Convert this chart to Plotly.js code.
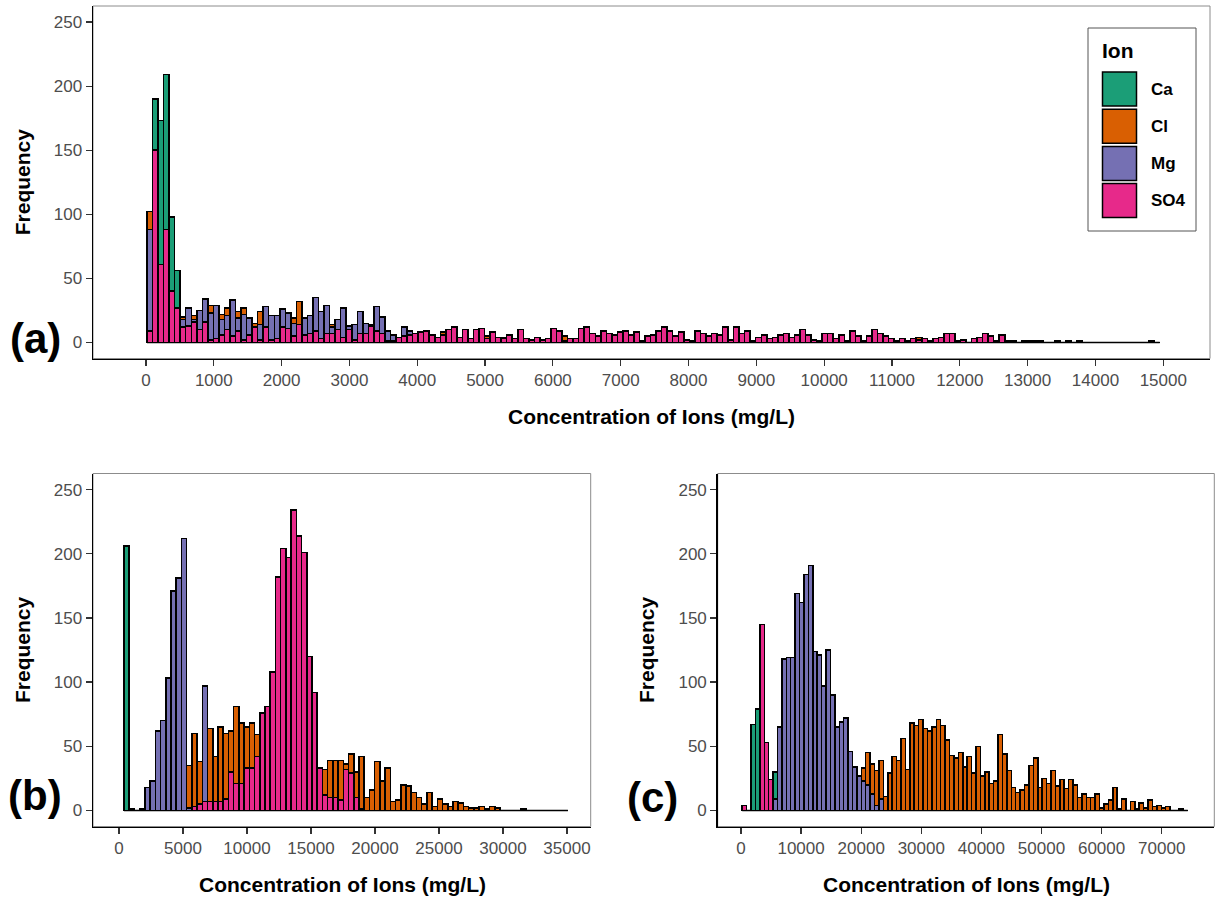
<!DOCTYPE html>
<html>
<head>
<meta charset="utf-8">
<script src="https://cdn.plot.ly/plotly-3.0.1.min.js"></script>
<style>
  html, body { margin: 0; padding: 0; background: #ffffff; }
  #chart { width: 1216px; height: 898px; }
</style>
</head>
<body>
<div id="chart"></div>
<script>
// Ion categories and their fill colours (Dark2 palette)
const ions = ['Ca', 'Cl', 'Mg', 'SO4'];
const ionColors = ['#1B9E77', '#D95F02', '#7570B3', '#E7298A'];

// Shared tick labels
const freqTicks = [0, 50, 100, 150, 200, 250];
const concTicksA = [0, 1000, 2000, 3000, 4000, 5000, 6000, 7000, 8000, 9000, 10000, 11000, 12000, 13000, 14000, 15000];
const concTicksB = [0, 5000, 10000, 15000, 20000, 25000, 30000, 35000];
const concTicksC = [0, 10000, 20000, 30000, 40000, 50000, 60000, 70000];

// ---------- Panel (a): histogram bins (mg/L) ----------
const binStartA = 15;
const binWidthA = 81.6;
const caA = [
  0,40,112,121,58,29,0,0,0,0,
  0,0,0,0,0,0,0,0,0,0, 0,0,0,0,0,0,0,0,0,0, 0,0,0,0,0,0,0,0,0,0,
  0,0,0,0,0,0,0,0,0,0, 0,0,0,0,0,0,0,0,0,0, 0,0,0,0,0,0,0,0,0,0,
  0,0,0,0,0,0,0,0,0,0, 0,0,0,0,0,0,0,0,0,0, 0,0,0,0,0,0,0,0,0,0,
  0,0,0,0,0,0,0,0,0,0, 0,0,0,0,0,0,0,0,0,0, 0,0,0,0,0,0,0,0,0,0,
  0,0,0,0,0,0,0,0,0,0, 0,0,0,0,0,0,0,0,0,0, 0,0,0,0,0,0,0,0,0,0,
  0,0,0,0,0,0,0,0,0,0, 0,0,0,0,0,0,0,0,0,0, 0,0,0
];
const clA = [
  14,0,0,0,0,0,2,0,3,0,
  0,6,0,4,6,0,5,5,0,3,
  10,0,0,0,0,0,4,18,0,0,
  0,0,0,2,0,0,0,0,0,0,
  0,0,0,0,0,0,0,0,0,0,
  0,0,0,2,0,0,0,0,0,0,
  0,2,0,0,1,0,0,0,0,0,
  0,0,0,0,0,4,0,0,0,0,
  0,0,0,0,0,0,0,0,0,0, 0,0,0,0,0,0,0,0,0,0,
  0,0,0,0,0,0,0,0,0,0, 0,0,0,0,0,0,0,0,0,0,
  0,0,0,0,0,0,0,0,0,0,
  0,0,0,0,0,0,0,0,0,2,
  0,0,0,0,0,0,0,0,0,0, 0,0,0,0,0,0,0,0,0,0,
  0,0,0,0,0,0,0,0,1,0,
  0,0,0,0,0,0,0,0,0,0, 0,0,0
];
const mgA = [
  79,0,0,0,0,0,6,14,2,15,
  18,21,26,12,11,28,10,20,13,0,
  12,16,19,18,14,12,10,0,13,14,
  26,21,22,5,8,23,3,12,17,8,
  1,19,13,8,5,0,7,3,0,0,
  0,0,0,0,0,0,0,0,0,0, 0,0,0,0,0,0,0,0,0,0, 0,0,0,0,0,0,0,0,0,0,
  0,0,0,0,0,0,0,0,0,0, 0,0,0,0,0,0,0,0,0,0, 0,0,0,0,0,0,0,0,0,0,
  0,0,0,0,0,0,0,0,0,0, 0,0,0,0,0,0,0,0,0,0, 0,0,0,0,0,0,0,0,0,0,
  0,0,0,0,0,0,0,0,0,0, 0,0,0,0,0,0,0,0,0,0, 0,0,0,0,0,0,0,0,0,0,
  0,0,0,0,0,0,0,0,0,0, 0,0,0
];
const so4A = [
  9,150,61,88,40,27,12,13,16,10,
  16,2,3,6,10,5,9,2,6,12,
  2,12,2,3,12,11,5,14,6,7,
  9,3,7,7,10,4,10,2,7,7,
  13,9,7,1,1,4,5,6,7,8,
  9,6,4,6,10,12,4,10,3,10,
  11,3,8,4,3,6,3,10,3,2,
  4,2,3,11,9,1,3,3,11,12,
  7,5,9,7,6,8,9,6,8,1,
  5,6,9,12,9,5,8,2,1,9,
  7,5,7,6,12,2,12,7,9,1,
  4,6,3,4,6,7,4,6,10,6,
  2,1,7,7,3,6,1,9,5,1,
  5,10,7,5,3,1,3,1,3,2,
  3,1,3,4,7,7,1,2,0,3,
  4,7,5,1,6,1,1,0,1,1,
  1,1,0,0,1,0,1,0,0,0,
  0,0,0,0,0,0,0,0,0,0,
  0,1,0
];

// ---------- Panel (b) ----------
const binStartB = 390;
const binWidthB = 408;
const caB = [
  206,1,0,0,0,0,0,0,0,0,
  0,0,0,0,0,0,0,0,0,0, 0,0,0,0,0,0,0,0,0,0, 0,0,0,0,0,0,0,0,0,0,
  0,0,0,0,0,0,0,0,0,0, 0,0,0,0,0,0,0,0,0,0, 0,0,0,0,0,0,0,0,0,0,
  0,0,0,0,0,0,0,0,0,0, 0,0,0,0,0
];
const clB = [
  0,0,0,0,0,0,0,0,0,0,
  0,0,33,57,33,0,57,35,58,51,
  32,60,47,32,35,17,0,0,0,0,
  0,0,0,0,0,0,0,0,20,29,
  29,31,4,15,20,41,10,16,38,23,
  33,7,8,20,19,14,10,5,14,3,
  9,5,3,7,6,3,2,2,3,1,
  3,2,0,0,0,0,1,0,0,0,
  0,0,0,0,0
];
const mgB = [
  0,0,0,1,18,23,62,70,103,171,
  181,212,2,0,0,90,0,0,0,0,
  0,0,0,0,0,0,0,0,0,0, 0,0,0,0,0,0,0,0,0,0,
  0,0,0,0,0,0,0,0,0,0, 0,0,0,0,0,0,0,0,0,0, 0,0,0,0,0,0,0,0,0,0,
  0,0,0,0,0,0,0,0,0,0, 0,0,0,0,0
];
const so4B = [
  0,0,0,0,0,0,0,0,0,0,
  0,0,0,3,5,7,7,7,7,9,
  30,21,21,33,33,42,76,81,108,182,
  204,197,234,214,201,120,92,33,12,10,
  10,8,32,29,10,1,0,0,0,0,
  0,0,0,0,0,0,0,0,0,0, 0,0,0,0,0,0,0,0,0,0, 0,0,0,0,0,0,0,0,0,0,
  0,0,0,0,0
];

// ---------- Panel (c) ----------
const binStartC = 200;
const binWidthC = 734;
const caC = [
  0,0,67,79,0,0,0,21,0,0,
  0,0,0,0,0,0,0,0,0,0, 0,0,0,0,0,0,0,0,0,0, 0,0,0,0,0,0,0,0,0,0,
  0,0,0,0,0,0,0,0,0,0, 0,0,0,0,0,0,0,0,0,0, 0,0,0,0,0,0,0,0,0,0,
  0,0,0,0,0,0,0,0,0,0, 0,0,0,0,0,0,0,0,0,0, 0,0,0,0,0,0,0,0,0,0,
  0
];
const clC = [
  0,0,0,0,0,0,0,0,0,0,
  0,0,0,0,0,0,0,0,0,0,
  0,0,0,0,0,0,0,10,25,23,
  27,30,11,29,42,39,56,32,68,66,
  71,64,62,65,71,66,55,43,41,45,
  34,42,29,50,27,30,21,23,59,44,
  31,18,14,16,20,35,41,18,25,21,
  31,19,24,17,24,20,10,13,10,10,
  13,2,5,8,18,1,9,0,7,1,
  6,2,8,3,4,2,3,0,0,1,
  0
];
const mgC = [
  0,0,0,0,0,0,0,9,65,118,
  119,119,169,162,184,191,124,121,97,125,
  90,65,69,72,46,34,27,23,20,13,
  4,9,0,0,0,0,0,0,0,0,
  0,0,0,0,0,0,0,0,0,0, 0,0,0,0,0,0,0,0,0,0, 0,0,0,0,0,0,0,0,0,0,
  0,0,0,0,0,0,0,0,0,0, 0,0,0,0,0,0,0,0,0,0, 0,0,0,0,0,0,0,0,0,0,
  0
];
const so4C = [
  4,0,0,0,145,53,24,0,0,0,
  0,0,0,0,0,0,0,0,0,0, 0,0,0,0,0,0,0,0,0,0, 0,0,0,0,0,0,0,0,0,0,
  0,0,0,0,0,0,0,0,0,0, 0,0,0,0,0,0,0,0,0,0, 0,0,0,0,0,0,0,0,0,0,
  0,0,0,0,0,0,0,0,0,0, 0,0,0,0,0,0,0,0,0,0, 0,0,0,0,0,0,0,0,0,0,
  0
];

// ---------- drawing ----------
const FONT = "'Liberation Sans', Arial, Helvetica, sans-serif";
const W = 1216, H = 898;
const px = v => v / W;          // horizontal pixel -> paper
const py = v => 1 - v / H;      // vertical pixel -> paper
const colorOf = name => ionColors[ions.indexOf(name)];
const OUTLINE = 1.5;

// stacked histogram: SO4 at the bottom, then Mg, Cl, Ca on top
function panelTraces(series, start, width, xa, ya) {
  const order = ['SO4', 'Mg', 'Cl', 'Ca'];
  return order.map(name => {
    const counts = series[name];
    return {
      type: 'bar',
      name: name,
      x: counts.map((_, i) => start + (i + 0.5) * width),
      y: counts,
      width: width,
      xaxis: xa, yaxis: ya,
      marker: { color: colorOf(name), line: { color: '#000000', width: OUTLINE } },
      showlegend: false,
      hoverinfo: 'skip'
    };
  });
}

const traces = [].concat(
  panelTraces({ Ca: caA, Cl: clA, Mg: mgA, SO4: so4A }, binStartA, binWidthA, 'x', 'y'),
  panelTraces({ Ca: caB, Cl: clB, Mg: mgB, SO4: so4B }, binStartB, binWidthB, 'x2', 'y2'),
  panelTraces({ Ca: caC, Cl: clC, Mg: mgC, SO4: so4C }, binStartC, binWidthC, 'x3', 'y3')
);

const tickFont = { family: FONT, size: 17, color: '#4d4d4d' };
function xAxis(domain, range, ticks, anchor) {
  return {
    domain: domain, range: range, anchor: anchor,
    tickmode: 'array', tickvals: ticks, ticktext: ticks.map(String),
    ticks: 'outside', ticklen: 6, tickwidth: 1.2, tickcolor: '#333333',
    showline: true, linecolor: '#000000', linewidth: 1.5,
    showgrid: false, zeroline: false, tickfont: tickFont, fixedrange: true
  };
}
function yAxis(domain, anchor) {
  return {
    domain: domain, range: [-12.5, 262.5], anchor: anchor,
    tickmode: 'array', tickvals: freqTicks, ticktext: freqTicks.map(String),
    ticks: 'outside', ticklen: 6, tickwidth: 1.2, tickcolor: '#333333',
    showline: true, linecolor: '#000000', linewidth: 1.5,
    showgrid: false, zeroline: false, tickfont: tickFont, fixedrange: true
  };
}

// panel frames (grey border) and zero-count baselines
const shapes = [];
[['x', 'y'], ['x2', 'y2'], ['x3', 'y3']].forEach(([xa, ya]) => {
  shapes.push({ type: 'rect', xref: xa + ' domain', yref: ya + ' domain', x0: 0, x1: 1, y0: 0, y1: 1,
    line: { color: '#8c8c8c', width: 1 }, layer: 'below' });
});
[[binStartA, binWidthA, so4A.length, 'x', 'y'],
 [binStartB, binWidthB, so4B.length, 'x2', 'y2'],
 [binStartC, binWidthC, so4C.length, 'x3', 'y3']].forEach(([s, w, n, xa, ya]) => {
  shapes.push({ type: 'line', xref: xa, yref: ya, x0: s, x1: s + n * w, y0: 0, y1: 0,
    line: { color: '#000000', width: OUTLINE }, layer: 'below' });
});

// legend box with large square keys
shapes.push({ type: 'rect', xref: 'paper', yref: 'paper', x0: px(1088), x1: px(1196), y0: py(231), y1: py(28),
  line: { color: '#555555', width: 1 }, fillcolor: '#ffffff' });
const annotations = [];
ions.forEach((name, k) => {
  const top = 72 + k * 37.2;
  shapes.push({ type: 'rect', xref: 'paper', yref: 'paper', x0: px(1102.5), x1: px(1136.5), y0: py(top + 34), y1: py(top),
    line: { color: '#000000', width: 1.5 }, fillcolor: ionColors[k] });
  annotations.push({ xref: 'paper', yref: 'paper', x: px(1149), y: py(top + 17), xanchor: 'left', yanchor: 'middle',
    text: '<b>' + name + '</b>', showarrow: false, font: { family: FONT, size: 17, color: '#000000' } });
});
annotations.push({ xref: 'paper', yref: 'paper', x: px(1100), y: py(50), xanchor: 'left', yanchor: 'middle',
  text: '<b>Ion</b>', showarrow: false, font: { family: FONT, size: 21, color: '#000000' } });

// axis titles
const titleFont = { family: FONT, size: 21, color: '#000000' };
const xTitle = 'Concentration of Ions (mg/L)';
[[px((93 + 1210) / 2), py(417)], [px((93 + 591) / 2), py(884)], [px((718 + 1214) / 2), py(884)]].forEach(([x, y]) => {
  annotations.push({ xref: 'paper', yref: 'paper', x: x, y: y, xanchor: 'center', yanchor: 'middle',
    text: '<b>' + xTitle + '</b>', showarrow: false, font: titleFont });
});
[[px(22), py((6 + 358.5) / 2)], [px(22), py((473.5 + 826.5) / 2)], [px(646), py((473.5 + 826.5) / 2)]].forEach(([x, y]) => {
  annotations.push({ xref: 'paper', yref: 'paper', x: x, y: y, xanchor: 'center', yanchor: 'middle', textangle: -90,
    text: '<b>Frequency</b>', showarrow: false, font: titleFont });
});

// panel tags
[['(a)', 35, 338], ['(b)', 35, 795], ['(c)', 652, 797]].forEach(([t, x, y]) => {
  annotations.push({ xref: 'paper', yref: 'paper', x: px(x), y: py(y), xanchor: 'center', yanchor: 'middle',
    text: '<b>' + t + '</b>', showarrow: false, font: { family: FONT, size: 42, color: '#000000' } });
});

const layout = {
  width: W, height: H,
  margin: { l: 0, r: 0, t: 0, b: 0 },
  paper_bgcolor: '#ffffff', plot_bgcolor: '#ffffff',
  barmode: 'stack', bargap: 0,
  showlegend: false, hovermode: false,
  font: { family: FONT },
  xaxis: xAxis([px(93), px(1210)], [-781, 15689], concTicksA, 'y'),
  yaxis: yAxis([py(358.5), py(6)], 'x'),
  xaxis2: xAxis([px(93), px(590.7)], [-2031, 36852], concTicksB, 'y2'),
  yaxis2: yAxis([py(826.5), py(473.5)], 'x2'),
  xaxis3: xAxis([px(717.7), px(1214.3)], [-3877, 78752], concTicksC, 'y3'),
  yaxis3: yAxis([py(826.5), py(473.5)], 'x3'),
  shapes: shapes,
  annotations: annotations
};

Plotly.newPlot('chart', traces, layout, { displayModeBar: false, staticPlot: true });
</script>
</body>
</html>
